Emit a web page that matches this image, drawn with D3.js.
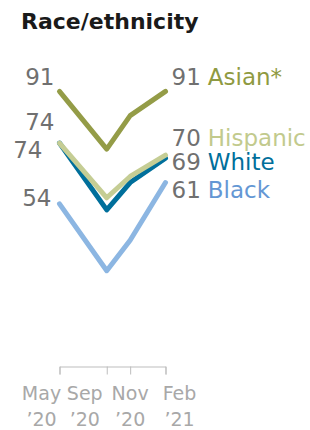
<!DOCTYPE html>
<html>
<head>
<meta charset="utf-8">
<script src="https://cdn.jsdelivr.net/npm/d3@7"></script>
<style>
  body { margin: 0; background: #fff; }
  svg { display: block; font-family: "DejaVu Sans", sans-serif; }
</style>
</head>
<body>
<div id="chart"></div>
<script>
// survey waves
var waves = ["2020-05", "2020-09", "2020-11", "2021-02"];
var waveMonths = ["May", "Sep", "Nov", "Feb"];
var waveYears = ["\u201920", "\u201920", "\u201920", "\u201921"];

// series, drawn back to front
var groups = ["Black", "White", "Hispanic", "Asian*"];
var black = [54, 32, 42, 61];
var white = [74, 52, 61, 69];
var hispanic = [74, 56, 63, 70];
var asian = [91, 72, 83, 91];

var seriesValues = [black, white, hispanic, asian];

// look of each series + label nudges so labels don't collide
var style = {
    "Black":    { line: "#8cb6e2", text: "#6497d4", leftDx: -8, leftDy: 2, rightDy: 15 },
    "White":    { line: "#006f9b", text: "#006f9b", leftDx: -17, leftDy: 15, rightDy: 11.5 },
    "Hispanic": { line: "#c5cd94", text: "#c2ca8d", leftDx: -5, leftDy: -13, rightDy: -9 },
    "Asian*":   { line: "#949c47", text: "#8f9a41", leftDx: -5, leftDy: -6.5, rightDy: -6.5 }
};

var width = 310, height = 430;
var parse = d3.timeParse("%Y-%m");
var dates = waves.map(parse);

var svg = d3.select("#chart")
    .append("svg")
    .attr("width", width)
    .attr("height", height);

svg.append("text")
    .attr("x", 21)
    .attr("y", 29)
    .attr("font-size", 22)
    .attr("font-weight", "bold")
    .attr("fill", "#1a1a1a")
    .text("Race/ethnicity");

var x = d3.scaleTime()
    .domain(d3.extent(dates))
    .range([59.5, 165.5]);

var y = d3.scaleLinear()
    .domain([0, 100])
    .range([368, 64]);

var line = d3.line()
    .x(function (d, i) { return x(dates[i]); })
    .y(function (d) { return y(d); });

var series = svg.selectAll(".series")
    .data(groups)
    .enter().append("g")
    .attr("class", "series");

series.append("path")
    .attr("d", function (d, i) { return line(seriesValues[i]); })
    .attr("fill", "none")
    .attr("stroke", function (d) { return style[d].line; })
    .attr("stroke-width", 5)
    .attr("stroke-linecap", "round")
    .attr("stroke-linejoin", "round");

// first value on the left
series.append("text")
    .attr("x", function (d) { return x(dates[0]) + style[d].leftDx; })
    .attr("y", function (d, i) { return y(seriesValues[i][0]) + style[d].leftDy; })
    .attr("text-anchor", "end")
    .attr("font-size", 23)
    .attr("fill", "#707070")
    .text(function (d, i) { return seriesValues[i][0]; });

// last value + group name on the right
var right = series.append("text")
    .attr("x", function (d) { return x(dates[dates.length - 1]) + 6; })
    .attr("y", function (d, i) { return y(seriesValues[i][3]) + style[d].rightDy; })
    .attr("font-size", 23);

right.append("tspan")
    .attr("fill", "#707070")
    .text(function (d, i) { return seriesValues[i][3]; });

right.append("tspan")
    .attr("dx", 7)
    .attr("fill", function (d) { return style[d].text; })
    .text(function (d) { return d; });

// time axis at the bottom
var axis = svg.append("g")
    .attr("transform", "translate(0,366.5)")
    .call(d3.axisBottom(x).tickValues(dates).tickSize(8).tickSizeOuter(8).tickFormat(""));

axis.selectAll("path, line").attr("stroke", "#bdbdbd");

var labelDx = [-18, -22, 0, 14];
var tickLabels = svg.selectAll(".tick-label")
    .data(dates)
    .enter().append("text")
    .attr("class", "tick-label")
    .attr("text-anchor", "middle")
    .attr("font-size", 19)
    .attr("fill", "#a8a8a8");

tickLabels.append("tspan")
    .attr("x", function (d, i) { return x(d) + labelDx[i]; })
    .attr("y", 400)
    .text(function (d, i) { return waveMonths[i]; });

tickLabels.append("tspan")
    .attr("x", function (d, i) { return x(d) + labelDx[i]; })
    .attr("y", 426)
    .text(function (d, i) { return waveYears[i]; });
</script>
</body>
</html>
